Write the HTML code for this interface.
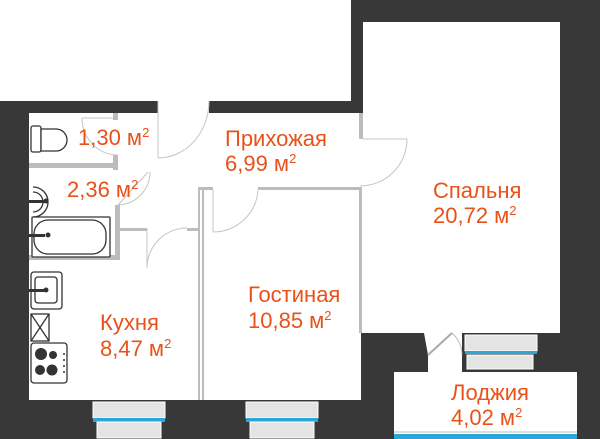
<!DOCTYPE html>
<html><head><meta charset="utf-8"><style>
html,body{margin:0;padding:0;background:#fff;}
svg{display:block;}
text{font-family:"Liberation Sans","DejaVu Sans",sans-serif;font-size:22px;fill:#e8521a;}
</style></head><body>
<svg width="600" height="439" viewBox="0 0 600 439" xmlns="http://www.w3.org/2000/svg">
<rect x="0" y="0" width="600" height="439" fill="#383838"/>
<rect x="0" y="0" width="351" height="101" fill="#fff"/>
<rect x="29" y="113" width="334" height="287" fill="#fff"/>
<rect x="158" y="101" width="51" height="12" fill="#fff"/>
<rect x="363" y="22" width="197" height="311" fill="#fff"/>
<rect x="361" y="333" width="63" height="67" fill="#383838"/>
<polygon points="424,333 462,333 462,372 428,372 428,355" fill="#fff"/>
<rect x="394" y="372" width="183" height="67" fill="#fff"/>
<rect x="394" y="431" width="183" height="2" fill="#ddd"/>
<rect x="394" y="434" width="183" height="5" fill="#29a8d8"/>
<rect x="465" y="335" width="72" height="16" fill="#e4e4e4" stroke="#fff" stroke-width="1"/>
<rect x="465" y="351" width="72" height="3" fill="#29a8d8"/>
<rect x="467" y="355" width="66" height="14" fill="#e4e4e4" stroke="#fff" stroke-width="1"/>
<line x1="428" y1="355" x2="452" y2="333" stroke="#aaa" stroke-width="2"/>
<path d="M452,333 A30,30 0 0 1 462,355" fill="none" stroke="#bbb" stroke-width="1"/>
<g fill="#bcbcbc">
<rect x="113" y="113" width="5" height="7"/>
<rect x="113" y="155" width="5" height="15"/>
<rect x="29" y="163" width="89" height="5"/>
<rect x="115" y="205" width="5" height="55"/>
<rect x="29" y="255" width="91" height="5"/>
<rect x="118" y="228" width="29" height="3"/>
<rect x="187" y="228" width="11" height="3"/>
<rect x="198" y="187" width="6" height="213"/>
<rect x="198" y="187" width="15" height="3"/>
<rect x="258" y="187" width="103" height="3"/>
<rect x="359" y="113" width="4" height="26"/>
<rect x="359" y="187" width="3" height="146"/>
</g>
<rect x="200" y="190" width="2" height="210" fill="#fff"/>
<g fill="none" stroke="#c4c4c4" stroke-width="1">
<path d="M158,158 L158,101 M158,158 A51,57 0 0 0 209,101"/>
<path d="M82,118 L113,118 M82,118 A36,37 0 0 0 118,155"/>
<path d="M118,205 L148,172 M118,205 A33,33 0 0 0 150,172"/>
<path d="M147,228 L147,268 M147,268 A40,40 0 0 1 187,228"/>
<path d="M213,190 L213,232 M213,232 A45,45 0 0 0 258,190"/>
<path d="M363,139 L407,139 M407,139 A47,47 0 0 1 360,186"/>
</g>
<g fill="#fff" stroke="#333" stroke-width="1.3">
<rect x="31" y="126" width="10" height="26" rx="2"/>
<path d="M41,129 L56,129 A11,11 0 0 1 56,151 L41,151 Z"/>
<path d="M33,187 A15,15 0 0 1 33,217"/>
<path d="M33,192 A10,10 0 0 1 33,212"/>
<rect x="32" y="217" width="78" height="40" rx="1"/>
<rect x="34" y="220" width="72" height="34" rx="14"/>
<rect x="31" y="272" width="31" height="37" rx="3"/>
<rect x="35" y="277" width="22" height="26" rx="3"/>
<rect x="31" y="314" width="18" height="27"/>
<path d="M31,314 L49,341 M49,314 L31,341"/>
<rect x="31" y="343" width="36" height="40" rx="3"/>
</g>
<g fill="#333">
<rect x="29" y="200" width="16" height="3"/>
<circle cx="46" cy="201" r="2.5"/>
<rect x="29" y="234" width="16" height="3"/>
<circle cx="48" cy="235" r="2.5"/>
<rect x="29" y="289" width="16" height="3"/>
<circle cx="46" cy="290" r="2.5"/>
<circle cx="41" cy="354" r="6"/><circle cx="53" cy="355" r="4"/>
<circle cx="40" cy="370" r="5"/><circle cx="52" cy="370" r="5.5"/>
<circle cx="64" cy="354" r="1"/><circle cx="64" cy="360" r="1"/><circle cx="64" cy="366" r="1"/><circle cx="64" cy="372" r="1"/>
</g>
<g>
<rect x="93" y="402" width="72" height="16" fill="#e4e4e4" stroke="#fff"/>
<rect x="93" y="418" width="72" height="4" fill="#29a8d8"/>
<rect x="97" y="422" width="64" height="16" fill="#e4e4e4" stroke="#fff"/>
<rect x="246" y="402" width="72" height="16" fill="#e4e4e4" stroke="#fff"/>
<rect x="246" y="418" width="72" height="4" fill="#29a8d8"/>
<rect x="250" y="422" width="64" height="16" fill="#e4e4e4" stroke="#fff"/>
</g>
<text x="78" y="145">1,30 м<tspan font-size="13" dy="-8">2</tspan></text>
<text x="67" y="197">2,36 м<tspan font-size="13" dy="-8">2</tspan></text>
<text x="225" y="146">Прихожая</text>
<text x="225" y="171">6,99 м<tspan font-size="13" dy="-8">2</tspan></text>
<text x="433" y="198">Спальня</text>
<text x="433" y="223">20,72 м<tspan font-size="13" dy="-8">2</tspan></text>
<text x="248" y="302">Гостиная</text>
<text x="248" y="328">10,85 м<tspan font-size="13" dy="-8">2</tspan></text>
<text x="100" y="330">Кухня</text>
<text x="100" y="356">8,47 м<tspan font-size="13" dy="-8">2</tspan></text>
<text x="451" y="400">Лоджия</text>
<text x="451" y="425">4,02 м<tspan font-size="13" dy="-8">2</tspan></text>
</svg>
</body></html>
